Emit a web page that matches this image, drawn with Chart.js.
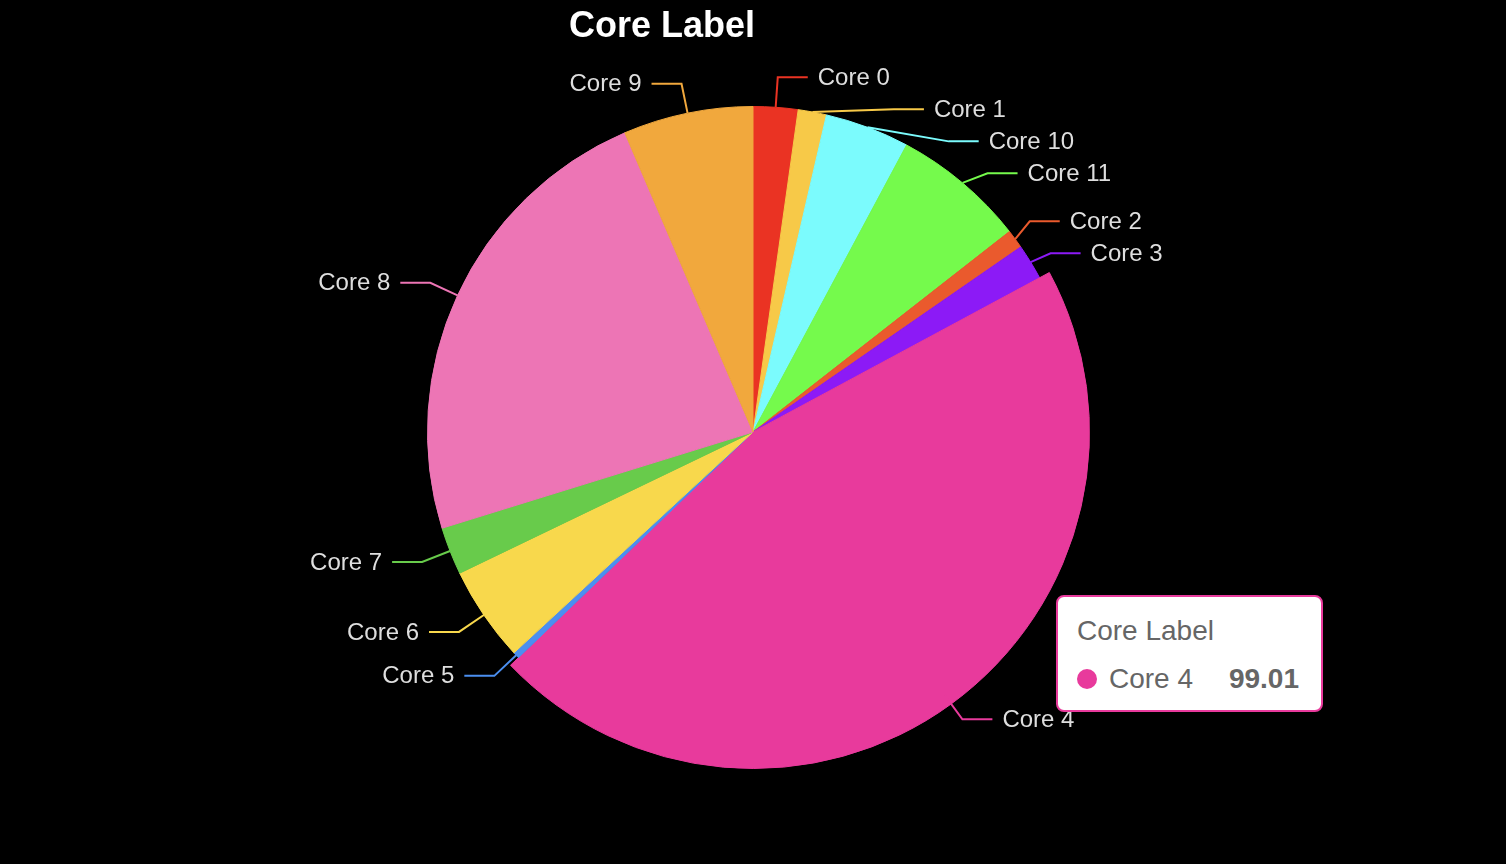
<!DOCTYPE html>
<html>
<head>
<meta charset="utf-8">
<script src="https://cdn.jsdelivr.net/npm/chart.js@4.4.1/dist/chart.umd.min.js"></script>
<style>
  html, body { margin: 0; padding: 0; background: #000; }
  #wrap { position: relative; width: 1506px; height: 864px; background: #000; }
  #title {
    position: absolute; left: 569px; top: 7px;
    font: bold 36px "Liberation Sans", Arial, sans-serif; line-height: 36px;
    color: #fff; white-space: nowrap;
  }
  #tip {
    position: absolute; box-sizing: border-box; width: 267px; height: 117px;
    background: #fff; border: 2px solid #e83a9c; border-radius: 8px;
    padding: 20px 22px 0 19px; display: none;
    font-family: "Liberation Sans", Arial, sans-serif; color: #666;
  }
  #tip .head { font-size: 28px; line-height: 28px; }
  #tip .row { display: flex; align-items: center; margin-top: 20px; font-size: 28px; line-height: 28px; }
  #tip .dot { width: 20px; height: 20px; border-radius: 50%; margin-right: 12px; }
  #tip .val { margin-left: auto; font-weight: bold; }
</style>
</head>
<body>
<div id="wrap">
  <canvas id="pieChart"></canvas>
  <div id="title">Core Label</div>
  <div id="tip"></div>
</div>
<script>
const seriesName = "Core Label";
const coreLabels = ["Core 0", "Core 1", "Core 10", "Core 11", "Core 2", "Core 3",
                    "Core 4", "Core 5", "Core 6", "Core 7", "Core 8", "Core 9"];
const coreValues = [4.81, 3.05, 9.10, 14.35, 2.02, 3.84, 99.01, 0.70, 10.26, 5.12, 50.59, 13.97];
const coreColors = ["#ea3323", "#f7c948", "#7bfbfd", "#75fa4c", "#ea5a2d", "#8c1af6",
                    "#e83a9c", "#4b8ff0", "#f8d84c", "#68cb4b", "#ed75b5", "#f1a83d"];
const hoveredIndex = 6; // Core 4 is shown as hovered

/* -------------------------------
   OUTSIDE LABELS WITH LEADER LINES
--------------------------------*/

const LINE1 = 30;   // radial part of the leader line
const LINE2 = 30;   // horizontal part
const GAP = 10;     // space between line and text
const ROW_H = 32;   // min vertical distance between labels
const GROW = 11;    // emphasis growth of the hovered slice

const outerLabels = {
    id: "outerLabels",
    afterDatasetsUpdate(chart) {
        const arc = chart.getDatasetMeta(0).data[hoveredIndex];
        if (arc) arc.outerRadius += GROW;
    },
    afterDatasetsDraw(chart) {
        const meta = chart.getDatasetMeta(0);
        const r = meta.controller.outerRadius;
        const ctx = chart.ctx;
        const cx = meta.data[0].x, cy = meta.data[0].y;

        const items = meta.data.map((arc, i) => {
            const mid = (arc.startAngle + arc.endAngle) / 2;
            const c = Math.cos(mid), s = Math.sin(mid);
            const dir = c < 0 ? -1 : 1;
            const x2 = cx + (r + LINE1) * c;
            return {
                i, dir,
                x1: cx + r * c, y1: cy + r * s,
                y: cy + (r + LINE1) * s,
                tx: x2 + dir * (LINE2 + GAP)
            };
        });

        [1, -1].forEach(dir => {
            const list = items.filter(it => it.dir === dir).sort((a, b) => a.y - b.y);
            let last = -Infinity, moved = false;
            list.forEach(it => {
                const top = it.y - ROW_H / 2;
                if (top < last) { it.y += last - top; moved = true; }
                last = it.y + ROW_H / 2;
            });
            if (!moved) return;
            const rA = r + LINE1;
            [list.filter(it => it.y <= cy), list.filter(it => it.y > cy)].forEach(semi => {
                if (!semi.length) return;
                let maxY = -1, rB = rA;
                semi.forEach(it => {
                    const dy = Math.abs(it.y - cy);
                    if (dy >= maxY) {
                        const dx = it.tx - cx - LINE2 * dir;
                        rB = Math.abs(dx) < rA ? Math.sqrt(dy * dy / (1 - dx * dx / (rA * rA))) : rA;
                        maxY = dy;
                    }
                });
                semi.forEach(it => {
                    const dy = Math.abs(it.y - cy);
                    const dx = Math.sqrt(Math.max(0, 1 - dy * dy / (rB * rB))) * rA;
                    it.tx = cx + (dx + LINE2) * dir;
                });
            });
        });

        ctx.save();
        ctx.lineWidth = 2;
        ctx.font = '24px "Liberation Sans", Arial, sans-serif';
        ctx.textBaseline = "middle";
        items.forEach(it => {
            const lineEnd = it.tx - it.dir * GAP;
            const elbow = lineEnd - it.dir * LINE2;
            ctx.strokeStyle = coreColors[it.i];
            ctx.beginPath();
            ctx.moveTo(it.x1, it.y1);
            ctx.lineTo(elbow, it.y);
            ctx.lineTo(lineEnd, it.y);
            ctx.stroke();
            ctx.fillStyle = "#dedede";
            ctx.textAlign = it.dir > 0 ? "left" : "right";
            ctx.fillText(coreLabels[it.i], it.tx, it.y + 1);
        });
        ctx.restore();
    }
};

/* -------------------------------
   TOOLTIP (html)
--------------------------------*/

function renderTip(context) {
    const tip = document.getElementById("tip");
    const model = context.tooltip;
    if (model.opacity === 0 || !model.dataPoints || !model.dataPoints.length) {
        tip.style.display = "none";
        return;
    }
    const point = model.dataPoints[0];
    const color = model.labelColors[0].backgroundColor;
    tip.style.borderColor = color;
    tip.innerHTML = `
        <div class="head">${model.title[0]}</div>
        <div class="row"><span class="dot" style="background:${color}"></span>
        <span>${point.label}</span><span class="val">${point.formattedValue}</span></div>`;
    tip.style.left = "1056px";
    tip.style.top = "595px";
    tip.style.display = "block";
}

/* -------------------------------
   CHART
--------------------------------*/

const chart = new Chart(document.getElementById("pieChart"), {
    type: "pie",
    data: {
        labels: coreLabels,
        datasets: [{
            label: seriesName,
            data: coreValues,
            backgroundColor: coreColors,
            borderColor: coreColors,
            borderWidth: 1,
            hoverOffset: 0
        }]
    },
    options: {
        responsive: true,
        maintainAspectRatio: false,
        animation: false,
        events: [],
        layout: { padding: { top: 106, bottom: 106 } },
        plugins: {
            legend: { display: false },
            title: { display: false },
            tooltip: {
                enabled: false,
                external: renderTip,
                callbacks: {
                    title: items => items[0].dataset.label
                }
            }
        }
    },
    plugins: [outerLabels]
});

chart.tooltip.setActiveElements([{ datasetIndex: 0, index: hoveredIndex }], { x: 0, y: 0 });
chart.update();
</script>
</body>
</html>
